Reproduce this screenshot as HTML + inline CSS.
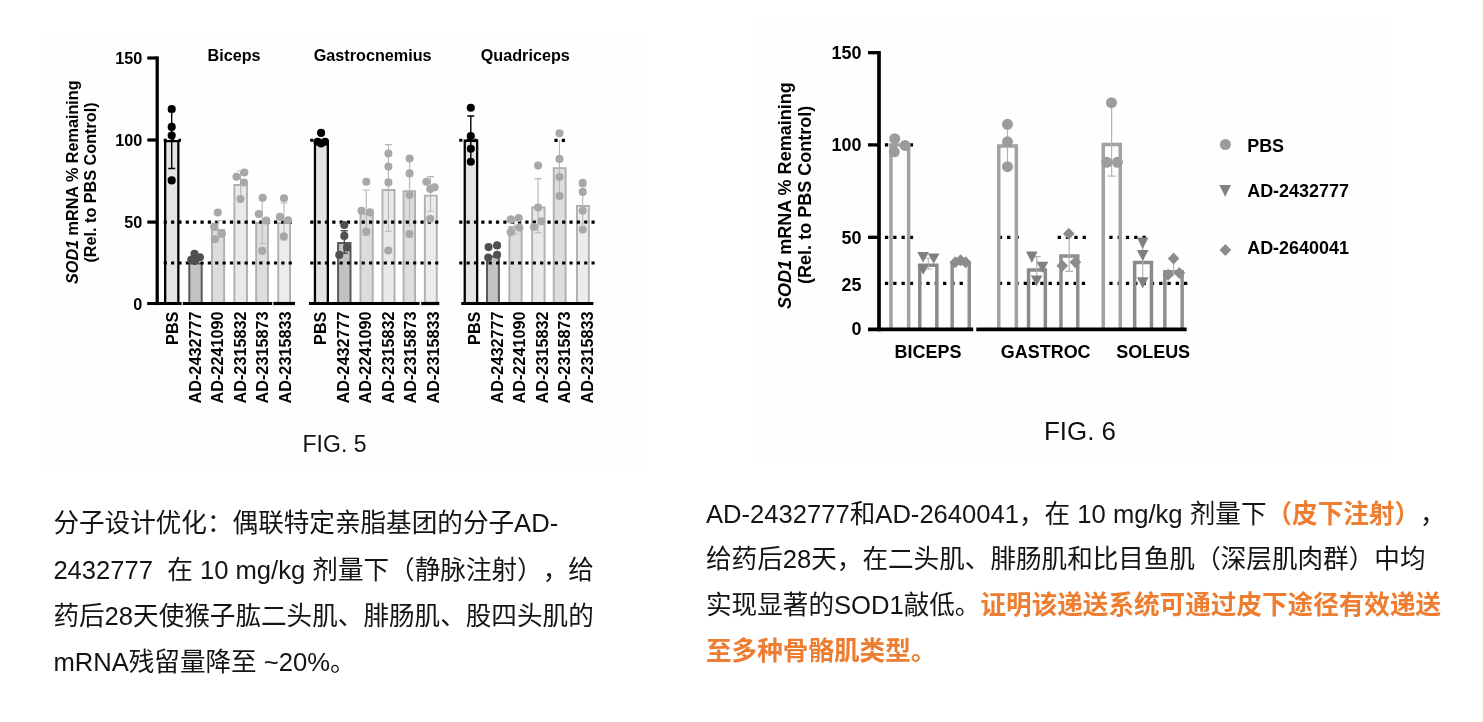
<!DOCTYPE html>
<html lang="zh-CN">
<head>
<meta charset="utf-8">
<title>SOD1 mRNA remaining - FIG. 5 / FIG. 6</title>
<style>
html,body{margin:0;padding:0;background:#fff;}
body{width:1483px;height:722px;position:relative;overflow:hidden;font-family:"Liberation Sans", "Noto Sans CJK SC", sans-serif;}
svg{position:absolute;left:0;top:0;}
svg text{font-family:"Liberation Sans", "Noto Sans CJK SC", sans-serif;fill:#000;}
.t16{font-size:16.2px;font-weight:700;}
.t18{font-size:17.95px;font-weight:700;}
.t18y{font-size:18.05px;font-weight:700;}
.cap{font-weight:400;fill:#111;}
.para{position:absolute;margin:0;font-size:25.6px;line-height:46.2px;color:#141414;white-space:nowrap;text-spacing-trim:space-all;font-kerning:none;}
.para b{color:#ed7d31;font-weight:700;}
#p1{left:53.4px;top:500.3px;}
#p2{left:706px;top:491.5px;line-height:45.85px;}
</style>
</head>
<body>
<svg width="1483" height="470" viewBox="0 0 1483 470" role="img" aria-label="SOD1 mRNA remaining bar charts">
<rect x="41.5" y="34.3" width="604" height="436" fill="#fefefe"/>
<rect x="751" y="18" width="640" height="440.5" fill="#fefefe"/>
<g class="lc">
<path d="M165.15 303.5 V141.15 H178.35 V303.5" fill="#e3e3e3" stroke="#000" stroke-width="2.3"/>
<path d="M189.3 303.5 V263.6 H201.7 V303.5" fill="#c2c2c2" stroke="#5a5a5a" stroke-width="2"/>
<path d="M211.95 303.5 V229.95 H224.15 V303.5" fill="#dcdcdc" stroke="#b0b0b0" stroke-width="1.9"/>
<path d="M234.35 303.5 V184.95 H246.95 V303.5" fill="#e9e9e9" stroke="#b0b0b0" stroke-width="1.9"/>
<path d="M256.15 303.5 V222.95 H267.95 V303.5" fill="#dddddd" stroke="#b0b0b0" stroke-width="1.9"/>
<path d="M278.25 303.5 V222.95 H290.05 V303.5" fill="#ececec" stroke="#b0b0b0" stroke-width="1.9"/>
<path d="M314.95 303.5 V141.15 H327.85 V303.5" fill="#e3e3e3" stroke="#000" stroke-width="2.3"/>
<path d="M338.1 303.5 V243 H350.5 V303.5" fill="#c2c2c2" stroke="#5a5a5a" stroke-width="2"/>
<path d="M360.45 303.5 V213.65 H372.75 V303.5" fill="#dcdcdc" stroke="#b0b0b0" stroke-width="1.9"/>
<path d="M382.45 303.5 V189.95 H394.55 V303.5" fill="#e9e9e9" stroke="#b0b0b0" stroke-width="1.9"/>
<path d="M403.55 303.5 V191.15 H415.05 V303.5" fill="#dddddd" stroke="#b0b0b0" stroke-width="1.9"/>
<path d="M424.85 303.5 V195.65 H436.75 V303.5" fill="#ececec" stroke="#b0b0b0" stroke-width="1.9"/>
<path d="M464.75 303.5 V140.75 H477.15 V303.5" fill="#e3e3e3" stroke="#000" stroke-width="2.3"/>
<path d="M487 303.5 V256.4 H498.9 V303.5" fill="#c2c2c2" stroke="#5a5a5a" stroke-width="2"/>
<path d="M509.35 303.5 V226.95 H521.65 V303.5" fill="#dcdcdc" stroke="#b0b0b0" stroke-width="1.9"/>
<path d="M532.15 303.5 V207.45 H544.55 V303.5" fill="#e9e9e9" stroke="#b0b0b0" stroke-width="1.9"/>
<path d="M553.75 303.5 V168.15 H565.65 V303.5" fill="#dddddd" stroke="#b0b0b0" stroke-width="1.9"/>
<path d="M576.95 303.5 V205.95 H588.85 V303.5" fill="#ececec" stroke="#b0b0b0" stroke-width="1.9"/>
<line x1="163.7" y1="222.1" x2="293.5" y2="222.1" stroke="#000" stroke-width="3.1" stroke-dasharray="3.2 4.15"/>
<line x1="163.7" y1="263" x2="293.5" y2="263" stroke="#000" stroke-width="3.1" stroke-dasharray="3.2 4.15"/>
<line x1="310.2" y1="222.1" x2="440.5" y2="222.1" stroke="#000" stroke-width="3.1" stroke-dasharray="3.2 4.15"/>
<line x1="310.2" y1="263" x2="440.5" y2="263" stroke="#000" stroke-width="3.1" stroke-dasharray="3.2 4.15"/>
<line x1="459.2" y1="222.1" x2="596.8" y2="222.1" stroke="#000" stroke-width="3.1" stroke-dasharray="3.2 4.15"/>
<line x1="459.2" y1="263" x2="596.8" y2="263" stroke="#000" stroke-width="3.1" stroke-dasharray="3.2 4.15"/>
<line x1="163.7" y1="140.2" x2="181" y2="140.2" stroke="#000" stroke-width="3.1" stroke-dasharray="3.2 4.15"/>
<line x1="310.2" y1="140.2" x2="330" y2="140.2" stroke="#000" stroke-width="3.1" stroke-dasharray="3.2 4.15"/>
<line x1="459.2" y1="140.2" x2="479.5" y2="140.2" stroke="#000" stroke-width="3.1" stroke-dasharray="3.2 4.15"/>
<line x1="554.4" y1="140.4" x2="566" y2="140.4" stroke="#000" stroke-width="3.1" stroke-dasharray="3.2 4.15"/>
<path d="M171.7 111.5 V168.5 M168.2 111.5 h7 M168.2 168.5 h7" fill="none" stroke="#000" stroke-width="1.4"/>
<path d="M218 220.5 V237.5 M214.5 220.5 h7 M214.5 237.5 h7" fill="none" stroke="#b6b6b6" stroke-width="1.1"/>
<path d="M240.6 171 V197 M237.1 171 h7 M237.1 197 h7" fill="none" stroke="#b6b6b6" stroke-width="1.1"/>
<path d="M262.2 200 V243.8 M258.7 200 h7 M258.7 243.8 h7" fill="none" stroke="#b6b6b6" stroke-width="1.1"/>
<path d="M284 203 V240 M280.5 203 h7 M280.5 240 h7" fill="none" stroke="#b6b6b6" stroke-width="1.1"/>
<path d="M344.3 230.7 V253.3 M340.8 230.7 h7 M340.8 253.3 h7" fill="none" stroke="#505050" stroke-width="1.4"/>
<path d="M366.3 190 V235.4 M362.8 190 h7 M362.8 235.4 h7" fill="none" stroke="#b6b6b6" stroke-width="1.1"/>
<path d="M388.4 144.6 V231.2 M384.9 144.6 h7 M384.9 231.2 h7" fill="none" stroke="#b6b6b6" stroke-width="1.1"/>
<path d="M409.6 156 V226" fill="none" stroke="#b6b6b6" stroke-width="1.1"/>
<path d="M430.5 176.6 V211.2 M427 176.6 h7 M427 211.2 h7" fill="none" stroke="#b6b6b6" stroke-width="1.1"/>
<path d="M470.8 116 V162 M467.3 116 h7 M467.3 162 h7" fill="none" stroke="#000" stroke-width="1.4"/>
<path d="M514.7 217.5 V234 M511.2 217.5 h7 M511.2 234 h7" fill="none" stroke="#b6b6b6" stroke-width="1.1"/>
<path d="M538.1 178.6 V232.7 M534.6 178.6 h7 M534.6 232.7 h7" fill="none" stroke="#b6b6b6" stroke-width="1.1"/>
<path d="M559.5 140 V195 M556 195 h7" fill="none" stroke="#b6b6b6" stroke-width="1.1"/>
<path d="M582.7 186.5 V224 M579.2 186.5 h7 M579.2 224 h7" fill="none" stroke="#b6b6b6" stroke-width="1.1"/>
<circle cx="171.7" cy="109" r="4.05" fill="#000"/>
<circle cx="171.7" cy="126.9" r="4.05" fill="#000"/>
<circle cx="171.7" cy="135.6" r="4.05" fill="#000"/>
<circle cx="171.7" cy="180.4" r="4.05" fill="#000"/>
<circle cx="194.5" cy="253.8" r="4.05" fill="#505050"/>
<circle cx="199.9" cy="257.2" r="4.05" fill="#505050"/>
<circle cx="191.2" cy="259.7" r="4.05" fill="#505050"/>
<circle cx="195.5" cy="260" r="4.05" fill="#505050"/>
<circle cx="217.8" cy="212.5" r="4.05" fill="#a8a8a8"/>
<circle cx="214.1" cy="226.7" r="4.05" fill="#a8a8a8"/>
<circle cx="221.9" cy="233.5" r="4.05" fill="#a8a8a8"/>
<circle cx="214.9" cy="239.3" r="4.05" fill="#a8a8a8"/>
<circle cx="236.5" cy="176.7" r="4.05" fill="#a8a8a8"/>
<circle cx="244.3" cy="172.5" r="4.05" fill="#a8a8a8"/>
<circle cx="244" cy="182.5" r="4.05" fill="#a8a8a8"/>
<circle cx="240.4" cy="199" r="4.05" fill="#a8a8a8"/>
<circle cx="262.7" cy="197.7" r="4.05" fill="#a8a8a8"/>
<circle cx="258.8" cy="214" r="4.05" fill="#a8a8a8"/>
<circle cx="266.3" cy="220.5" r="4.05" fill="#a8a8a8"/>
<circle cx="262.2" cy="250.9" r="4.05" fill="#a8a8a8"/>
<circle cx="284" cy="198.3" r="4.05" fill="#a8a8a8"/>
<circle cx="279.9" cy="216.9" r="4.05" fill="#a8a8a8"/>
<circle cx="288.1" cy="220.2" r="4.05" fill="#a8a8a8"/>
<circle cx="283.8" cy="236.4" r="4.05" fill="#a8a8a8"/>
<circle cx="321.1" cy="132.9" r="4.05" fill="#000"/>
<circle cx="317.6" cy="141.8" r="4.05" fill="#000"/>
<circle cx="325" cy="141.8" r="4.05" fill="#000"/>
<circle cx="321.1" cy="143.5" r="4.05" fill="#000"/>
<circle cx="344.3" cy="225" r="4.05" fill="#505050"/>
<circle cx="344.3" cy="235.9" r="4.05" fill="#505050"/>
<circle cx="347.1" cy="247.5" r="4.05" fill="#505050"/>
<circle cx="339.3" cy="254.9" r="4.05" fill="#505050"/>
<circle cx="366.3" cy="181.7" r="4.05" fill="#a8a8a8"/>
<circle cx="361.5" cy="210.8" r="4.05" fill="#a8a8a8"/>
<circle cx="370" cy="212.4" r="4.05" fill="#a8a8a8"/>
<circle cx="366.3" cy="231.5" r="4.05" fill="#a8a8a8"/>
<circle cx="388.4" cy="153.5" r="4.05" fill="#a8a8a8"/>
<circle cx="388.4" cy="166.6" r="4.05" fill="#a8a8a8"/>
<circle cx="388.4" cy="182.4" r="4.05" fill="#a8a8a8"/>
<circle cx="388.3" cy="250.5" r="4.05" fill="#a8a8a8"/>
<circle cx="409.6" cy="158.5" r="4.05" fill="#a8a8a8"/>
<circle cx="409.6" cy="173.4" r="4.05" fill="#a8a8a8"/>
<circle cx="409.6" cy="195" r="4.05" fill="#a8a8a8"/>
<circle cx="409.5" cy="234" r="4.05" fill="#a8a8a8"/>
<circle cx="426.4" cy="181.7" r="4.05" fill="#a8a8a8"/>
<circle cx="434.6" cy="187.3" r="4.05" fill="#a8a8a8"/>
<circle cx="430.2" cy="189" r="4.05" fill="#a8a8a8"/>
<circle cx="430.2" cy="218.8" r="4.05" fill="#a8a8a8"/>
<circle cx="470.8" cy="107.7" r="4.05" fill="#000"/>
<circle cx="470.8" cy="136" r="4.05" fill="#000"/>
<circle cx="470.8" cy="148.7" r="4.05" fill="#000"/>
<circle cx="470.8" cy="161.8" r="4.05" fill="#000"/>
<circle cx="488.6" cy="247.1" r="4.05" fill="#505050"/>
<circle cx="497.1" cy="245.4" r="4.05" fill="#505050"/>
<circle cx="497.1" cy="254.8" r="4.05" fill="#505050"/>
<circle cx="488.2" cy="257.6" r="4.05" fill="#505050"/>
<circle cx="510.7" cy="219.4" r="4.05" fill="#a8a8a8"/>
<circle cx="518.7" cy="218" r="4.05" fill="#a8a8a8"/>
<circle cx="519.3" cy="227.5" r="4.05" fill="#a8a8a8"/>
<circle cx="510.7" cy="232.1" r="4.05" fill="#a8a8a8"/>
<circle cx="538.1" cy="165.5" r="4.05" fill="#a8a8a8"/>
<circle cx="538.1" cy="207.5" r="4.05" fill="#a8a8a8"/>
<circle cx="541.4" cy="221.2" r="4.05" fill="#a8a8a8"/>
<circle cx="534" cy="227" r="4.05" fill="#a8a8a8"/>
<circle cx="559.5" cy="133.2" r="4.05" fill="#a8a8a8"/>
<circle cx="559.5" cy="159" r="4.05" fill="#a8a8a8"/>
<circle cx="559.5" cy="177.1" r="4.05" fill="#a8a8a8"/>
<circle cx="559.5" cy="196" r="4.05" fill="#a8a8a8"/>
<circle cx="582.7" cy="182.9" r="4.05" fill="#a8a8a8"/>
<circle cx="582.7" cy="191.9" r="4.05" fill="#a8a8a8"/>
<circle cx="582.7" cy="210.7" r="4.05" fill="#a8a8a8"/>
<circle cx="582.7" cy="229.6" r="4.05" fill="#a8a8a8"/>
<path d="M157.2 56.4 V305.1" stroke="#000" stroke-width="3.3" fill="none"/>
<path d="M147.3 58 H157.2" stroke="#000" stroke-width="3.2" fill="none"/>
<path d="M147.3 140 H157.2" stroke="#000" stroke-width="3.2" fill="none"/>
<path d="M147.3 222.1 H157.2" stroke="#000" stroke-width="3.2" fill="none"/>
<path d="M147.2 303.5 H181.6" stroke="#000" stroke-width="3.2" fill="none"/>
<path d="M182.8 303.5 H272.2" stroke="#000" stroke-width="3.2" fill="none"/>
<path d="M273.4 303.5 H295" stroke="#000" stroke-width="3.2" fill="none"/>
<path d="M309 303.5 H419.6" stroke="#000" stroke-width="3.2" fill="none"/>
<path d="M421.2 303.5 H439.3" stroke="#000" stroke-width="3.2" fill="none"/>
<path d="M461.2 303.5 H593.4" stroke="#000" stroke-width="3.2" fill="none"/>
<text x="142.2" y="63.7" text-anchor="end" class="t16">150</text>
<text x="142.2" y="145.7" text-anchor="end" class="t16">100</text>
<text x="142.2" y="227.8" text-anchor="end" class="t16">50</text>
<text x="142.2" y="309.8" text-anchor="end" class="t16">0</text>
<text x="234" y="61.3" text-anchor="middle" class="t16">Biceps</text>
<text x="372.7" y="61.3" text-anchor="middle" class="t16">Gastrocnemius</text>
<text x="525.3" y="61.3" text-anchor="middle" class="t16">Quadriceps</text>
<text transform="translate(178.4 311.6) rotate(-90)" text-anchor="end" class="t16">PBS</text>
<text transform="translate(200.85 311.6) rotate(-90)" text-anchor="end" class="t16">AD-2432777</text>
<text transform="translate(223.3 311.6) rotate(-90)" text-anchor="end" class="t16">AD-2241090</text>
<text transform="translate(245.75 311.6) rotate(-90)" text-anchor="end" class="t16">AD-2315832</text>
<text transform="translate(268.2 311.6) rotate(-90)" text-anchor="end" class="t16">AD-2315873</text>
<text transform="translate(290.65 311.6) rotate(-90)" text-anchor="end" class="t16">AD-2315833</text>
<text transform="translate(326.2 311.6) rotate(-90)" text-anchor="end" class="t16">PBS</text>
<text transform="translate(348.7 311.6) rotate(-90)" text-anchor="end" class="t16">AD-2432777</text>
<text transform="translate(371.2 311.6) rotate(-90)" text-anchor="end" class="t16">AD-2241090</text>
<text transform="translate(393.7 311.6) rotate(-90)" text-anchor="end" class="t16">AD-2315832</text>
<text transform="translate(416.2 311.6) rotate(-90)" text-anchor="end" class="t16">AD-2315873</text>
<text transform="translate(438.7 311.6) rotate(-90)" text-anchor="end" class="t16">AD-2315833</text>
<text transform="translate(480 311.6) rotate(-90)" text-anchor="end" class="t16">PBS</text>
<text transform="translate(502.6 311.6) rotate(-90)" text-anchor="end" class="t16">AD-2432777</text>
<text transform="translate(525.2 311.6) rotate(-90)" text-anchor="end" class="t16">AD-2241090</text>
<text transform="translate(547.8 311.6) rotate(-90)" text-anchor="end" class="t16">AD-2315832</text>
<text transform="translate(570.4 311.6) rotate(-90)" text-anchor="end" class="t16">AD-2315873</text>
<text transform="translate(593 311.6) rotate(-90)" text-anchor="end" class="t16">AD-2315833</text>
<text transform="translate(78.2 182.2) rotate(-90)" text-anchor="middle" class="t16"><tspan font-style="italic">SOD1</tspan> mRNA % Remaining</text>
<text transform="translate(96.2 182.5) rotate(-90)" text-anchor="middle" class="t16">(Rel. to PBS Control)</text>
</g>
<g class="rc">
<line x1="884.9" y1="144.9" x2="915" y2="144.9" stroke="#000" stroke-width="3.2" stroke-dasharray="3.3 5"/>
<line x1="884.9" y1="237.3" x2="915" y2="237.3" stroke="#000" stroke-width="3.2" stroke-dasharray="3.3 5"/>
<line x1="884.9" y1="283.3" x2="965" y2="283.3" stroke="#000" stroke-width="3.2" stroke-dasharray="3.3 5"/>
<line x1="998.8" y1="237.3" x2="1020" y2="237.3" stroke="#000" stroke-width="3.2" stroke-dasharray="3.3 5"/>
<line x1="1057.7" y1="237.3" x2="1088" y2="237.3" stroke="#000" stroke-width="3.2" stroke-dasharray="3.3 5"/>
<line x1="998.8" y1="283.3" x2="1086" y2="283.3" stroke="#000" stroke-width="3.2" stroke-dasharray="3.3 5"/>
<line x1="1109.3" y1="237.3" x2="1147" y2="237.3" stroke="#000" stroke-width="3.2" stroke-dasharray="3.3 5"/>
<line x1="1109.3" y1="283.3" x2="1188" y2="283.3" stroke="#000" stroke-width="3.2" stroke-dasharray="3.3 5"/>
<path d="M890.95 329.4 V145.05 H908.65 V329.4" fill="none" stroke="#a2a2a2" stroke-width="3.5"/>
<path d="M919.75 329.4 V265.35 H936.85 V329.4" fill="none" stroke="#8a8a8a" stroke-width="3.5"/>
<path d="M952.15 329.4 V263.25 H969.25 V329.4" fill="none" stroke="#8f8f8f" stroke-width="3.5"/>
<path d="M998.75 329.4 V146.05 H1016.35 V329.4" fill="none" stroke="#a2a2a2" stroke-width="3.5"/>
<path d="M1028.55 329.4 V270.05 H1045.35 V329.4" fill="none" stroke="#8a8a8a" stroke-width="3.5"/>
<path d="M1060.95 329.4 V255.95 H1077.75 V329.4" fill="none" stroke="#8f8f8f" stroke-width="3.5"/>
<path d="M1103.25 329.4 V144.55 H1120.25 V329.4" fill="none" stroke="#a2a2a2" stroke-width="3.5"/>
<path d="M1134.65 329.4 V262.45 H1151.45 V329.4" fill="none" stroke="#8a8a8a" stroke-width="3.5"/>
<path d="M1164.85 329.4 V271.65 H1182.15 V329.4" fill="none" stroke="#8f8f8f" stroke-width="3.5"/>
<path d="M1007.5 126 V166" fill="none" stroke="#b4b4b4" stroke-width="1.2"/>
<path d="M1111.6 104 V176.2 M1107.6 176.2 h8" fill="none" stroke="#b4b4b4" stroke-width="1.2"/>
<path d="M928.3 258 V269 M924.3 258 h8 M924.3 269 h8" fill="none" stroke="#b4b4b4" stroke-width="1.2"/>
<path d="M1036.8 256.7 V284 M1032.8 256.7 h8" fill="none" stroke="#b4b4b4" stroke-width="1.2"/>
<path d="M1069.2 236 V271.3 M1065.2 271.3 h8" fill="none" stroke="#b4b4b4" stroke-width="1.2"/>
<path d="M1142.7 240 V284" fill="none" stroke="#b4b4b4" stroke-width="1.2"/>
<path d="M1173.6 260 V276" fill="none" stroke="#b4b4b4" stroke-width="1.2"/>
<circle cx="894.7" cy="138.7" r="5.5" fill="#9c9c9c"/>
<circle cx="905.1" cy="145.5" r="5.5" fill="#9c9c9c"/>
<circle cx="894.3" cy="151.8" r="5.5" fill="#9c9c9c"/>
<circle cx="1007.5" cy="124.3" r="5.5" fill="#9c9c9c"/>
<circle cx="1007.5" cy="141.8" r="5.5" fill="#9c9c9c"/>
<circle cx="1007.5" cy="166.7" r="5.5" fill="#9c9c9c"/>
<circle cx="1111.5" cy="102.7" r="5.5" fill="#9c9c9c"/>
<circle cx="1106.8" cy="162.3" r="5.5" fill="#9c9c9c"/>
<circle cx="1117.4" cy="162.3" r="5.5" fill="#9c9c9c"/>
<circle cx="1225.4" cy="144.5" r="5.5" fill="#9c9c9c"/>
<path d="M917.3 252.1 H928.9 L923.1 262.6Z" fill="#808080"/>
<path d="M927.9 253.6 H939.5 L933.7 263.8Z" fill="#808080"/>
<path d="M917.4 264.2 H929 L923.2 274.8Z" fill="#808080"/>
<path d="M1026 251.4 H1037.6 L1031.8 263Z" fill="#808080"/>
<path d="M1036.6 261.7 H1048.2 L1042.4 273Z" fill="#808080"/>
<path d="M1030.8 275.4 H1042.4 L1036.6 286.2Z" fill="#808080"/>
<path d="M1136.9 237.4 H1148.5 L1142.7 248.9Z" fill="#808080"/>
<path d="M1136.9 250.1 H1148.5 L1142.7 261.1Z" fill="#808080"/>
<path d="M1136.9 277.3 H1148.5 L1142.7 288.6Z" fill="#808080"/>
<path d="M1219.4 185 H1231 L1225.2 196.7Z" fill="#808080"/>
<path d="M955.3 256.3 L961.1 262.3 L955.3 268.3 L949.5 262.3Z" fill="#8c8c8c"/>
<path d="M960.5 254.2 L966.3 260.2 L960.5 266.2 L954.7 260.2Z" fill="#8c8c8c"/>
<path d="M965.6 256.3 L971.4 262.3 L965.6 268.3 L959.8 262.3Z" fill="#8c8c8c"/>
<path d="M1068.8 227.7 L1074.6 233.7 L1068.8 239.7 L1063 233.7Z" fill="#8c8c8c"/>
<path d="M1062.3 259.8 L1068.1 265.8 L1062.3 271.8 L1056.5 265.8Z" fill="#8c8c8c"/>
<path d="M1075.4 256.3 L1081.2 262.3 L1075.4 268.3 L1069.6 262.3Z" fill="#8c8c8c"/>
<path d="M1173.6 252.6 L1179.4 258.6 L1173.6 264.6 L1167.8 258.6Z" fill="#8c8c8c"/>
<path d="M1168.1 268.8 L1173.9 274.8 L1168.1 280.8 L1162.3 274.8Z" fill="#8c8c8c"/>
<path d="M1179.4 266.9 L1185.2 272.9 L1179.4 278.9 L1173.6 272.9Z" fill="#8c8c8c"/>
<path d="M1225.4 243.9 L1231.2 249.9 L1225.4 255.9 L1219.6 249.9Z" fill="#8c8c8c"/>
<path d="M879 51.1 V331.2" stroke="#000" stroke-width="3.7" fill="none"/>
<path d="M868 52.7 H879" stroke="#000" stroke-width="3.3" fill="none"/>
<path d="M868 144.9 H879" stroke="#000" stroke-width="3.3" fill="none"/>
<path d="M868 237.3 H879" stroke="#000" stroke-width="3.3" fill="none"/>
<path d="M868 329.4 H973.2" stroke="#000" stroke-width="3.8" fill="none"/>
<path d="M976.3 329.4 H1186.7" stroke="#000" stroke-width="3.8" fill="none"/>
<text x="861.4" y="59" text-anchor="end" class="t18">150</text>
<text x="861.4" y="151.2" text-anchor="end" class="t18">100</text>
<text x="861.4" y="243.6" text-anchor="end" class="t18">50</text>
<text x="861.4" y="290.6" text-anchor="end" class="t18">25</text>
<text x="861.4" y="334.9" text-anchor="end" class="t18">0</text>
<text x="928" y="357.5" text-anchor="middle" class="t18">BICEPS</text>
<text x="1045.7" y="357.5" text-anchor="middle" class="t18">GASTROC</text>
<text x="1153.2" y="357.5" text-anchor="middle" class="t18">SOLEUS</text>
<text x="1247.2" y="151.6" class="t18">PBS</text>
<text x="1247.2" y="196.9" class="t18">AD-2432777</text>
<text x="1247.2" y="254.1" class="t18">AD-2640041</text>
<text transform="translate(791.4 195.6) rotate(-90)" text-anchor="middle" class="t18y"><tspan font-style="italic">SOD1</tspan> mRNA % Remaining</text>
<text transform="translate(811.0 194.8) rotate(-90)" text-anchor="middle" class="t18y">(Rel. to PBS Control)</text>
</g>
<text x="334.5" y="452" text-anchor="middle" class="cap" font-size="23">FIG. 5</text>
<text x="1080" y="440" text-anchor="middle" class="cap" font-size="25.9">FIG. 6</text>
</svg>
<p class="para" id="p1">分子设计优化：偶联特定亲脂基团的分子AD-<br>2432777&nbsp; 在 10 mg/kg 剂量下（静脉注射），给<br>药后28天使猴子肱二头肌、腓肠肌、股四头肌的<br>mRNA残留量降至 ~20%。</p>
<p class="para" id="p2">AD-2432777和AD-2640041，在 10 mg/kg 剂量下<b>（皮下注射）</b>，<br>给药后28天，在二头肌、腓肠肌和比目鱼肌（深层肌肉群）中均<br>实现显著的SOD1敲低。<b>证明该递送系统可通过皮下途径有效递送</b><br><b>至多种骨骼肌类型。</b></p>
</body>
</html>
